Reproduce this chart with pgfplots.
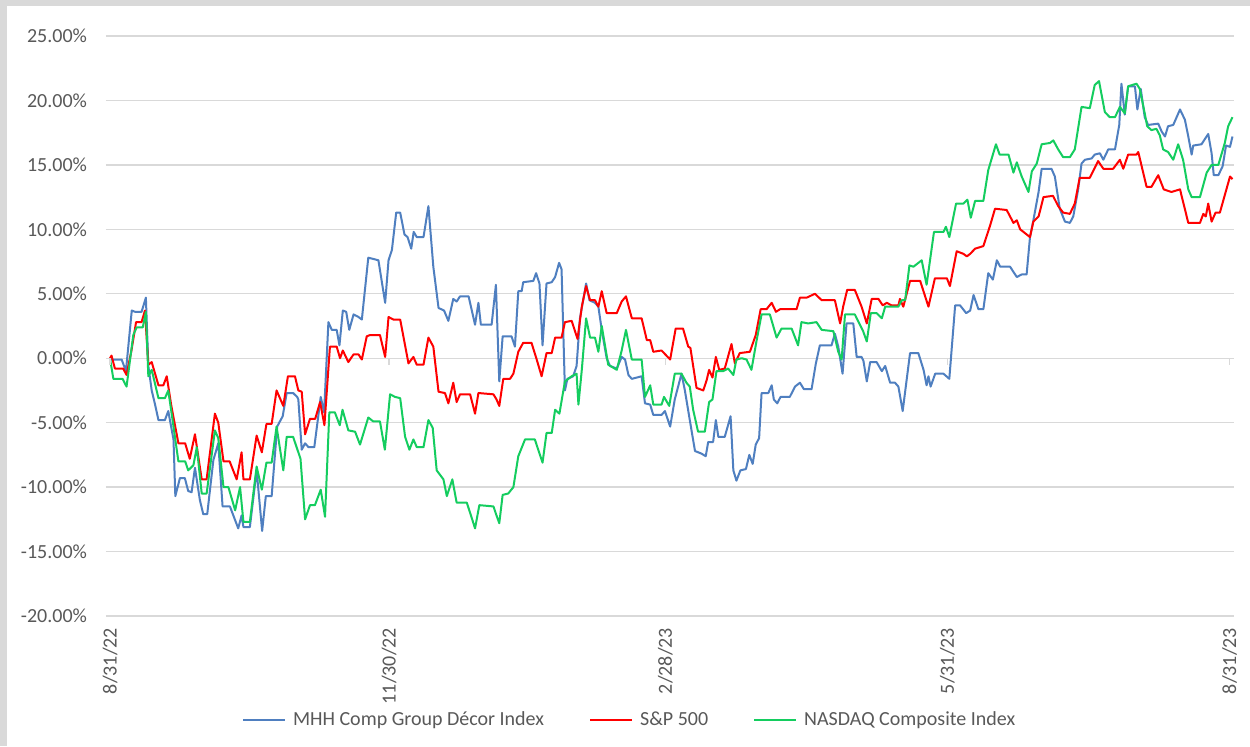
\documentclass[border=0pt]{standalone}
\usepackage{fontspec}
\setmainfont{Carlito}
\usepackage{pgfplots}
\usepackage{pgfplotstable}
\pgfplotsset{compat=1.18}
\definecolor{frame}{HTML}{D9D9D9}
\definecolor{gridc}{HTML}{D9D9D9}
\definecolor{lab}{HTML}{595959}
\definecolor{mhh}{HTML}{4F7FC0}
\definecolor{spx}{HTML}{FF0000}
\definecolor{ndq}{RGB}{20,205,95}

\pgfplotstableread{
x y
0 0
0.5 -0.1
3.8 -0.1
5.2 -1.0
7.1 3.7
8.2 3.6
10.3 3.6
11.7 4.7
12.5 -0.6
13.6 -2.5
14.7 -3.6
15.8 -4.8
17.9 -4.8
19 -4.1
20.7 -6.3
21.3 -10.7
22.8 -9.3
24.4 -9.3
25.5 -10.3
26.6 -10.4
27.7 -8.5
29.3 -11
30.4 -12.1
31.7 -12.1
33.7 -7.9
35.3 -6.6
36.7 -11.5
39.1 -11.5
41.8 -13.2
42.9 -12.2
43.5 -13.1
45.6 -13.1
47.8 -8.7
49.6 -13.4
50.8 -10.7
52.7 -10.7
54.5 -5.3
56.3 -4.5
57.6 -2.7
59.7 -2.7
61.0 -3.0
61.4 -3.2
62.5 -7.1
63.6 -6.6
64.7 -6.9
66.6 -6.9
68.7 -3.0
69.8 -4.2
71.2 2.8
72.3 2.2
73.9 2.2
74.8 1.0
75.9 3.7
77 3.6
78 2.2
79.4 3.4
81 3.2
82.1 3.0
84.2 7.8
87.5 7.6
89.7 4.3
90.8 7.6
91.9 8.4
93.3 11.3
94.6 11.3
96 9.6
97 9.4
98.2 8.5
99 9.8
100 9.4
102.2 9.4
103.8 11.8
105.4 7.1
107.1 3.9
108.9 3.7
110.3 2.9
111.9 4.6
113 4.4
114.1 4.8
116.9 4.8
119 2.6
120.1 4.3
120.9 2.6
124.4 2.6
125.8 5.7
126.9 -1.8
128 1.7
130.9 1.7
132 0.9
133.1 5.2
134.2 5.2
134.7 5.9
138 6.0
138.9 6.6
140 5.8
141 1.0
142.3 5.8
144 5.9
145.1 6.3
146.4 7.4
147.2 6.9
148.3 -2.5
149.1 -1.6
151 -1.4
152.1 -0.6
153.2 3.1
155.2 5.8
156.3 4.5
158.1 4.3
159.2 4.0
160.3 2.2
161.9 0
163 -0.6
165.2 -0.8
166.8 0.1
167.9 -0.1
169 -1.3
170.1 -1.6
173.3 -1.4
174.4 -3.5
176.1 -3.6
177.1 -4.4
179.8 -4.4
180.9 -4.1
182.6 -5.3
184.1 -3.2
186.3 -1.2
187.4 -2.5
189 -4.8
190.7 -7.2
192.8 -7.4
194.2 -7.6
195 -6.5
196.6 -6.5
197.5 -4.8
198.3 -6.1
200.4 -6.1
202.3 -4.5
203.2 -8.7
204.2 -9.5
205.5 -8.7
207.3 -8.6
208.4 -7.5
209.5 -8.2
210.5 -6.7
211.6 -6.2
212.4 -2.7
214.6 -2.7
215.7 -2.1
216.4 -3.2
217.5 -3.5
218.6 -3.0
221.6 -3.0
223.3 -2.2
224.9 -1.9
226.2 -2.4
228.7 -2.4
230.1 -0.4
231.4 1.0
235.2 1.0
236.3 1.9
237.4 0.9
238.8 -1.2
240.1 2.7
242.3 2.7
243.4 0.1
245 0.1
245.6 -0.2
246.7 -1.8
247.8 -0.3
249.9 -0.3
251.6 -1.0
252.7 -0.6
254.3 -1.9
255.9 -1.9
257 -2.2
258.4 -4.1
260.8 0.4
263.5 0.4
265.2 -0.9
266.2 -2.1
266.8 -1.4
267.5 -2.2
269 -1.2
271.7 -1.2
273.6 -1.6
275.5 4.1
277.1 4.1
279.1 3.5
280.4 3.7
281.5 4.9
283.1 3.8
284.7 3.8
286.3 6.6
287.8 6.1
289.1 7.6
290.2 7.1
293.4 7.1
295.6 6.3
297.2 6.5
298.8 6.5
299.9 9.4
301 10.7
302.7 12.9
303.7 14.7
306.9 14.7
308 14.1
309.6 11.6
311.3 10.6
312.9 10.5
314 11.0
315.6 13.1
316.7 15.1
317.8 15.4
320 15.5
321 15.8
322.7 15.9
323.8 15.4
325.4 16.2
327.6 16.2
329 18.1
329.7 21.3
330.8 18.9
331.9 21.1
334.1 21.1
334.9 19.3
336 20.9
337.3 18.7
338.4 18.1
341.7 18.2
342.8 17.6
343.9 17.2
344.9 18.0
346.6 18.1
348.8 19.3
350.4 18.5
351.5 17.2
352.6 15.8
353.1 16.5
355.8 16.6
358 17.4
359.1 15.9
359.8 14.2
361.3 14.2
362.7 14.9
363.8 16.5
365.1 16.4
365.9 17.2
}\mhh

\pgfplotstableread{
x y
0 0
0.5 0.2
1.6 -0.8
4.3 -0.8
5.4 -1.3
7 0.6
8.5 2.8
10.3 2.8
11.4 3.7
12.5 -0.5
13.6 -0.3
15.8 -2.1
17.4 -2.1
18.5 -1.4
20 -3.7
22.3 -6.6
24.5 -6.6
26 -7.8
27.7 -5.9
29.9 -9.4
31.5 -9.4
34.2 -4.3
35.3 -5
37 -8
39 -8
41.3 -9.4
42.9 -7.3
43.5 -9.4
45.6 -9.4
47.8 -6
49.5 -7.3
51 -5.1
52.7 -5.1
54.3 -2.5
56.5 -3.7
58 -1.4
60.3 -1.4
61.4 -2.5
62.5 -2.6
63.6 -5.9
65.2 -4.7
66.9 -4.7
68.5 -3.4
69.9 -5.2
71.7 0.9
73.9 0.9
75 0
75.9 0.6
77.7 -0.3
79.4 0.3
81 0.3
82.1 -0.1
83.7 1.7
84.8 1.8
88 1.8
89.7 0.1
90.8 3.2
92.4 3.0
94.6 3.0
97.3 -0.4
98.9 0.1
100 -0.5
102.2 -0.5
103.8 1.6
105.4 0.9
107.1 -2.6
109.2 -2.7
110.3 -3.5
111.9 -1.9
113 -3.4
114.1 -2.8
117.4 -2.8
119 -4.3
120.1 -2.7
125 -2.8
126 -3.2
126.9 -3.7
128.2 -1.6
130.4 -1.6
131.5 -1.2
133.1 0.5
134.7 1.2
137.4 1.2
139.1 -0.1
140.7 -1.4
142.3 0.4
144 0.4
145.1 1.6
147.2 1.6
148.3 2.8
150.5 2.9
152.4 1.5
153.8 4.0
155.2 5.6
156.5 4.5
158.1 4.5
159.2 4.0
160.3 5.2
161.9 3.5
165.2 3.5
166.8 4.4
168.2 4.8
170.1 3.1
173.3 3.1
175 1.4
176.1 1.4
177.1 0.5
179.8 0.6
182.6 -0.1
184.4 2.3
186.8 2.3
188.5 0.9
189.2 0.8
191.2 -2.3
193.4 -2.5
194.5 -1.7
195.3 -0.9
196.4 -1.5
197.5 0.1
198.6 -0.9
200.4 -0.8
202.6 1.1
203.7 -0.4
205.3 0.4
208.6 0.5
210.5 1.8
212.1 3.8
214 3.8
215.7 4.3
217.1 3.6
218.4 3.8
223.8 3.8
224.9 4.7
227.1 4.7
229.8 5.0
232 4.5
236.3 4.5
238 2.7
239 4.0
240.3 5.3
242.8 5.3
245 4.0
246.7 2.7
248.3 4.6
250.5 4.6
251.9 4.1
253.2 4.3
254.8 4.1
257 4.1
257.5 4.6
258.6 4.0
260.8 6.0
264.1 6.0
266.8 4.0
268.9 6.2
272.8 6.2
273.8 5.6
276 8.3
278.2 8.1
279.3 7.9
280.4 8.1
282 8.5
284.7 8.7
286.9 10.3
288.5 11.6
292.3 11.5
294.5 10.5
295.6 10.7
296.7 10.0
299.9 9.4
301 10.6
302.7 11.0
304.3 12.5
307.4 12.6
309.1 11.8
310.7 11.3
312.9 11.2
314.5 12.0
316.1 14.0
319.4 14.0
322.1 15.3
323.8 14.7
327 14.7
329.2 15.4
330.3 14.7
331.9 15.8
334.6 15.8
335.2 16.0
337.9 13.3
339.5 13.3
341.7 14.2
343.5 13.1
346 12.9
348.8 13.1
351.5 10.5
355.3 10.5
356.4 11.2
357.2 11.0
358 12.0
359.1 10.6
360.4 11.3
361.8 11.3
365.1 14.1
365.9 13.9
}\spx

\pgfplotstableread{
x y
0 0
1.1 -1.6
4.1 -1.6
5.4 -2.2
7.6 1.8
8.7 2.4
10.7 2.4
11.7 3.6
12.5 -1.4
13.6 -0.9
15.8 -3.1
17.9 -3.1
19 -2.5
20.4 -4.8
22.3 -8.0
24.5 -8.0
25.5 -8.7
27.2 -8.3
28.3 -6.9
29.9 -10.5
31.5 -10.5
34.2 -5.6
35.3 -6.2
37 -10.0
38.6 -10.0
40.8 -11.8
42.4 -10.0
43.5 -12.7
45.6 -12.7
47.8 -8.4
49.5 -10.2
51 -8.1
52.7 -8.1
54.3 -5.3
56.5 -8.7
57.6 -6.1
59.7 -6.1
62.1 -7.8
63.6 -12.5
65.2 -11.4
66.8 -11.4
68.7 -10.2
70.1 -12.3
71.5 -4.2
73.3 -4.2
74.9 -5.2
75.8 -4.0
77.7 -5.6
79.9 -5.7
81.5 -6.7
84.2 -4.6
85.8 -4.9
88 -4.9
89.6 -7.1
91.3 -2.8
92.9 -3.0
94.6 -3.1
96.2 -6.1
97.6 -7.1
98.9 -6.3
100 -6.9
102.2 -6.9
103.8 -4.8
105.2 -5.4
106.5 -8.7
108.7 -9.4
109.8 -10.7
111.6 -9.4
113 -11.2
116.3 -11.2
117.4 -12.0
119 -13.2
120.4 -11.4
125 -11.5
126 -12.2
126.9 -12.8
128 -10.6
129.8 -10.5
131.5 -10.0
133.1 -7.6
135.3 -6.3
138.5 -6.3
139.6 -7.1
141 -8.1
142.3 -5.8
144 -5.8
145.1 -4.0
146.5 -4.3
148.3 -1.8
150.5 -1.4
152.1 -1.2
152.7 -3.6
153.8 -0.9
155.2 3.1
156.5 1.6
158.1 1.6
159.2 0.5
160.3 2.5
162.4 -0.5
165.2 -0.9
166.8 0.6
168.2 2.2
170.1 -0.1
173.3 -0.1
174.4 -3.0
176.1 -2.1
177.1 -3.6
179.8 -3.6
180.6 -3.0
182.3 -3.7
184.1 -1.2
186.3 -1.2
187.9 -1.9
189 -2.2
190.1 -4.0
191.7 -5.7
193.9 -5.7
195.3 -3.4
196.4 -3.2
197.7 -1.0
199.9 -1.0
201.5 -0.8
203.2 -1.3
204.2 -0.1
205.9 0
207.5 -0.1
209.1 -0.9
210.8 1.4
212.4 3.4
215.1 3.4
217.3 1.6
218.9 2.3
222.2 2.3
224.3 1.0
225.4 2.8
227.6 2.7
230.3 2.8
232 2.2
235.8 2.1
237.4 0.5
238.5 -0.1
239.6 3.4
242.8 3.4
245.5 2.1
246.7 1.3
248 3.5
249.9 3.5
251.6 3.1
252.7 4.0
257 4.0
258.1 4.5
259.2 4.5
260.6 7.2
261.9 7.1
264.6 7.6
266.2 5.7
268.6 9.8
271.7 9.8
272.5 10.2
273.6 9.4
275.8 12.0
278.2 12.0
279.5 12.3
280.6 10.9
282 12.2
284.7 12.2
286.3 14.6
288.8 16.6
290 15.8
292.9 15.8
294.5 14.4
295.6 15.2
297.2 14.1
299.4 12.9
300.5 14.5
302.1 15.1
303.7 16.6
306.4 16.7
307.5 16.9
309.1 16.2
310.7 15.6
312.9 15.6
314.5 16.2
316.7 19.5
319.4 19.4
321 21.2
322.4 21.5
324.3 19.1
325.9 18.7
327.6 18.7
329.2 19.5
330.8 19.0
331.9 21.1
334.6 21.3
335.7 20.9
337.3 19.0
338.1 18.0
339.5 17.7
341.1 17.8
342.2 17.3
343.3 16.2
344.9 16.0
346.6 15.4
348.2 16.6
349.8 15.4
351.5 13.1
352.6 12.5
355.3 12.5
357.5 14.4
359.1 15.0
361.3 15.0
363.4 16.7
364.5 18.0
365.9 18.7
}\ndq

\begin{document}
\begin{tikzpicture}
\fill[frame] (0pt,0pt) rectangle (625pt,373pt);
\fill[white] (3.5pt,0pt) rectangle (625pt,370pt);
\begin{axis}[
  at={(53pt,65pt)}, anchor=south west,
  scale only axis, width=564pt, height=290pt,
  xmin=-1.3, xmax=366.4, ymin=-20, ymax=25,
  axis line style={draw=none},
  major tick length=0pt,
  ymajorgrids, grid style={color=gridc, line width=0.7pt},
  ytick={-20,-15,-10,-5,0,5,10,15,20,25},
  yticklabels={-20.00\%,-15.00\%,-10.00\%,-5.00\%,0.00\%,5.00\%,10.00\%,15.00\%,20.00\%,25.00\%},
  xtick={0,91,181,273,365},
  xticklabels={8/31/22,11/30/22,2/28/23,5/31/23,8/31/23},
  tick label style={font=\normalsize, color=lab, inner sep=0pt, outer sep=0pt},
  yticklabel style={anchor=east},
  yticklabel shift=9.5pt,
  xticklabel style={rotate=90, anchor=east},
  xticklabel shift=6pt,
  legend style={at={(axis description cs:0.1206,-0.179)}, anchor=west, draw=none, fill=none,
    font=\normalsize, text=lab, inner sep=0pt, outer sep=0pt,
    nodes={inner sep=0pt},
    legend columns=3,
    /tikz/every odd column/.append style={column sep=3.5pt},
    /tikz/every even column/.append style={column sep=22.5pt}},
  legend image code/.code={\draw[#1] (0pt,0pt) -- (21pt,0pt);},
  every axis plot/.append style={line width=1pt, line join=round},
]
\addplot[mhh] table {\mhh};
\addlegendentry{MHH Comp Group Décor Index}
\addplot[spx] table {\spx};
\addlegendentry{S\&P 500}
\addplot[ndq] table {\ndq};
\addlegendentry{NASDAQ Composite Index}
\pgfplotsinvokeforeach{0,91,181,273,365}{
  \draw[gridc, line width=0.7pt] (axis cs:#1,0) -- ++(0pt,-3.5pt);
}
\end{axis}
\pgfresetboundingbox
\path[use as bounding box] (0pt,0pt) rectangle (625pt,373pt);
\end{tikzpicture}
\end{document}
